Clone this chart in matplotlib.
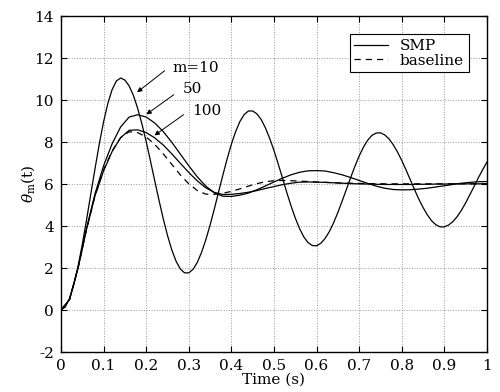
import matplotlib
matplotlib.use("Agg")
import matplotlib.pyplot as plt

plt.rcParams['font.family'] = ['DejaVu Serif']
plt.rcParams['mathtext.fontset'] = 'dejavuserif'

# SMP, m=10 (sampled every 0.01 s)
t_fine = [i / 100 for i in range(101)]
smp_m10 = [0.00, 0.14, 0.55, 1.21, 2.08, 3.13, 4.30, 5.53, 6.75, 7.92,
           8.97, 9.84, 10.50, 10.91, 11.05, 10.95, 10.67, 10.22, 9.60, 8.86,
           8.02, 7.10, 6.16, 5.23, 4.35, 3.55, 2.87, 2.33, 1.96, 1.77,
           1.77, 1.94, 2.27, 2.75, 3.35, 4.05, 4.82, 5.63, 6.43, 7.20,
           7.90, 8.50, 8.98, 9.31, 9.48, 9.48, 9.34, 9.07, 8.67, 8.17,
           7.59, 6.95, 6.28, 5.60, 4.96, 4.38, 3.88, 3.48, 3.21, 3.07,
           3.06, 3.18, 3.41, 3.74, 4.16, 4.65, 5.19, 5.75, 6.31, 6.85,
           7.34, 7.76, 8.09, 8.32, 8.43, 8.44, 8.34, 8.15, 7.87, 7.52,
           7.12, 6.67, 6.20, 5.73, 5.28, 4.88, 4.53, 4.25, 4.06, 3.96,
           3.96, 4.05, 4.21, 4.45, 4.75, 5.11, 5.50, 5.90, 6.31, 6.69,
           7.05]

# other curves (sampled every 0.02 s)
t_coarse = [i / 50 for i in range(51)]
smp_m50 = [0.00, 0.50, 2.00, 3.90, 5.55, 6.87, 7.92, 8.72, 9.19, 9.30,
           9.19, 8.91, 8.50, 7.99, 7.43, 6.87, 6.34, 5.90, 5.58, 5.42,
           5.41, 5.47, 5.57, 5.73, 5.91, 6.10, 6.28, 6.44, 6.56, 6.63,
           6.64, 6.62, 6.54, 6.44, 6.31, 6.17, 6.03, 5.90, 5.80, 5.74,
           5.72, 5.73, 5.76, 5.80, 5.86, 5.92, 5.98, 6.04, 6.08, 6.11,
           6.12]
smp_m100 = [0.00, 0.50, 2.00, 3.85, 5.45, 6.63, 7.55, 8.21, 8.56, 8.58,
            8.45, 8.20, 7.86, 7.44, 6.99, 6.55, 6.15, 5.82, 5.60, 5.50,
            5.51, 5.55, 5.61, 5.69, 5.79, 5.88, 5.97, 6.04, 6.09, 6.10,
            6.09, 6.08, 6.06, 6.04, 6.02, 6.01, 6.00, 5.99, 5.98, 5.98,
            5.98, 5.98, 5.99, 5.99, 6.00, 6.00, 6.01, 6.01, 6.01, 6.01,
            6.01]
baseline = [0.00, 0.50, 2.00, 3.85, 5.45, 6.67, 7.58, 8.21, 8.49, 8.45,
            8.24, 7.89, 7.44, 6.94, 6.44, 6.01, 5.69, 5.52, 5.51, 5.56,
            5.65, 5.77, 5.90, 6.02, 6.11, 6.16, 6.17, 6.16, 6.14, 6.12,
            6.10, 6.08, 6.06, 6.05, 6.04, 6.03, 6.02, 6.02, 6.01, 6.01,
            6.01, 6.01, 6.01, 6.01, 6.01, 6.01, 6.01, 6.01, 6.01, 6.01,
            6.01]

fig = plt.figure(figsize=(5.0, 3.92), dpi=100)
ax = fig.add_axes([0.122, 0.102, 0.852, 0.857])

ax.plot(t_fine, smp_m10, color='k', lw=0.9, label='SMP')
ax.plot(t_coarse, smp_m50, color='k', lw=0.9)
ax.plot(t_coarse, smp_m100, color='k', lw=0.9)
ax.plot(t_coarse, baseline, color='k', lw=0.9, ls=(0, (5, 4)), label='baseline')

# m labels with arrows
arrow = dict(arrowstyle='-|>', color='k', lw=0.7, mutation_scale=7)
ax.annotate('', xy=(0.1735, 10.29), xytext=(0.2485, 11.48), arrowprops=arrow)
ax.annotate('', xy=(0.195, 9.24), xytext=(0.27, 10.33), arrowprops=arrow)
ax.annotate('', xy=(0.214, 8.24), xytext=(0.293, 9.38), arrowprops=arrow)
ax.text(0.262, 11.52, 'm=10', fontsize=11, va='center')
ax.text(0.286, 10.52, '50', fontsize=11, va='center')
ax.text(0.307, 9.48, '100', fontsize=11, va='center')

ax.set_xlim(0, 1)
ax.set_ylim(-2, 14)
ax.set_xticks([0, 0.1, 0.2, 0.3, 0.4, 0.5, 0.6, 0.7, 0.8, 0.9, 1])
ax.set_xticklabels(['0', '0.1', '0.2', '0.3', '0.4', '0.5', '0.6', '0.7', '0.8', '0.9', '1'])
ax.set_yticks(range(-2, 15, 2))
ax.set_yticklabels(['-2', '0', '2', '4', '6', '8', '10', '12', '14'])
ax.tick_params(direction='in', top=True, right=True, length=4, labelsize=11, pad=5)
ax.grid(True, ls=':', color='#999999', lw=0.7)
for s in ax.spines.values():
    s.set_linewidth(1.0)

ax.set_xlabel('Time (s)', fontsize=11, labelpad=0)
ax.set_ylabel(r'$\theta_\mathrm{m}$(t)', fontsize=11, labelpad=-2)

leg = ax.legend(loc='upper right', fancybox=False, edgecolor='k', framealpha=1,
                fontsize=11, handlelength=2.2, borderpad=0.3, labelspacing=0.05,
                borderaxespad=1.2)
leg.get_frame().set_linewidth(0.8)

fig.savefig('out.png', dpi=100)
